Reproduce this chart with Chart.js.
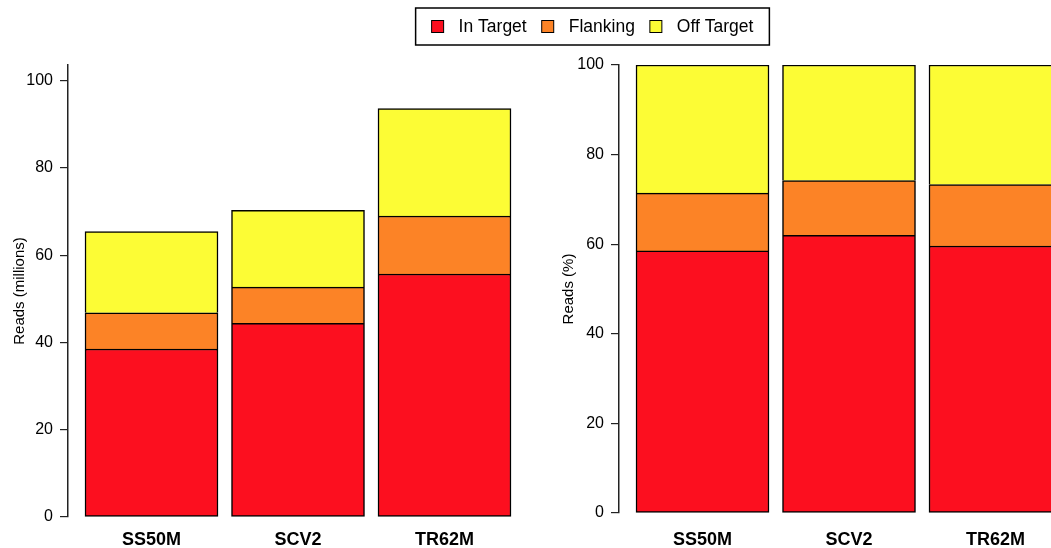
<!DOCTYPE html>
<html>
<head>
<meta charset="utf-8">
<title>Reads per target region</title>
<script src="https://cdn.jsdelivr.net/npm/chart.js@4.4.1/dist/chart.umd.min.js"></script>
<style>
  html, body { margin: 0; padding: 0; background: #fff; overflow: hidden; }
  #wrap { position: relative; width: 1051px; height: 548px; overflow: hidden; }
  #readsChart { position: absolute; left: 0; top: 0; }
  #pctChart { position: absolute; left: 540px; top: 0; }
</style>
</head>
<body>
<div id="wrap">
  <canvas id="readsChart" width="1051" height="548"></canvas>
  <canvas id="pctChart" width="600" height="548"></canvas>
</div>
<script>
// Datos
const categories = ["SS50M", "SCV2", "TR62M"];
const seriesNames = ["In Target", "Flanking", "Off Target"];
const seriesColors = ["#FC0F1F", "#FC8326", "#FCFC35"];

// millones de lecturas
const readsInTarget = [38.5, 44.4, 55.7];
const readsFlanking = [8.3, 8.3, 13.3];
const readsOffTarget = [18.6, 17.6, 24.6];

// porcentaje de lecturas
const pctInTarget = [58.5, 62.0, 59.6];
const pctFlanking = [12.9, 12.2, 13.7];
const pctOffTarget = [28.6, 25.8, 26.7];

const yTicks = [0, 20, 40, 60, 80, 100];

Chart.defaults.font.family = "'Liberation Sans', Arial, Helvetica, sans-serif";
Chart.defaults.color = "#000";

function toPoints(values) {
  return values.map((v, i) => ({ x: i, y: v }));
}

function buildDatasets(series) {
  return series.map((values, i) => ({
    label: seriesNames[i],
    data: toPoints(values),
    backgroundColor: seriesColors[i],
    borderColor: "#000",
    // solo el primer tramo dibuja borde inferior, asi las uniones no se duplican
    borderWidth: i === 0 ? 1.5 : { top: 1.5, left: 1.5, right: 1.5, bottom: 0 },
    borderSkipped: false,
    barThickness: 133,
  }));
}

// leyenda con recuadro, centrada sobre ambos paneles
const boxLegend = {
  id: "boxLegend",
  afterDraw(chart) {
    const ctx = chart.ctx;
    const sw = 12, gapText = 15, gapItem = 15, pad = 16;
    ctx.save();
    ctx.font = "17.5px 'Liberation Sans', Arial, sans-serif";
    const widths = seriesNames.map((n) => ctx.measureText(n).width);
    let total = pad * 2 + gapItem * (seriesNames.length - 1);
    widths.forEach((w) => (total += sw + gapText + w));
    const cx = 592.5, top = 8, h = 37;
    let x = cx - total / 2;
    ctx.lineWidth = 1.5;
    ctx.strokeStyle = "#000";
    ctx.strokeRect(x, top, total, h);
    x += pad;
    const cy = top + h / 2;
    seriesNames.forEach((name, i) => {
      ctx.fillStyle = seriesColors[i];
      ctx.fillRect(x, cy - sw / 2, sw, sw);
      ctx.lineWidth = 1;
      ctx.strokeRect(x, cy - sw / 2, sw, sw);
      x += sw + gapText;
      ctx.fillStyle = "#000";
      ctx.textBaseline = "middle";
      ctx.fillText(name, x, cy + 1);
      x += widths[i] + gapItem;
    });
    ctx.restore();
  },
};

function makeOptions(cfg) {
  return {
    responsive: false,
    animation: false,
    layout: { padding: { top: 65, left: 0, right: cfg.padRight, bottom: 0 } },
    plugins: { legend: { display: false }, tooltip: { enabled: false } },
    scales: {
      x: {
        type: "linear",
        min: -0.57,
        max: 2.57,
        offset: false,
        stacked: true,
        afterBuildTicks: (s) => {
          s.ticks = categories.map((c, i) => ({ value: i }));
        },
        ticks: {
          callback: (v) => categories[v],
          font: { size: 18, weight: "bold" },
          color: "#000",
          padding: cfg.xPad,
          autoSkip: false,
          maxRotation: 0,
        },
        grid: { display: false },
        border: { display: false },
        afterFit: (s) => {
          s.height = cfg.xHeight;
        },
      },
      y: {
        min: 0,
        max: cfg.yMax,
        stacked: true,
        afterBuildTicks: (s) => {
          s.ticks = yTicks.map((v) => ({ value: v }));
        },
        ticks: { font: { size: 16 }, color: "#000", padding: 7 },
        grid: { drawOnChartArea: false, tickLength: 8, color: "#222", lineWidth: 1.2 },
        border: { display: true, color: "#222", width: 1.5 },
        title: {
          display: true,
          text: cfg.yTitle,
          font: { size: 15 },
          color: "#000",
          padding: { top: cfg.titlePad, bottom: 0 },
        },
        afterFit: (s) => {
          s.width = cfg.yWidth;
        },
      },
    },
  };
}

new Chart(document.getElementById("readsChart"), {
  type: "bar",
  data: { datasets: buildDatasets([readsInTarget, readsFlanking, readsOffTarget]) },
  options: makeOptions({
    padRight: 1051 - 528,
    xPad: 4,
    xHeight: 31,
    yMax: 103.6,
    yTitle: "Reads (millions)",
    titlePad: 11,
    yWidth: 68,
  }),
  plugins: [boxLegend],
});

new Chart(document.getElementById("pctChart"), {
  type: "bar",
  data: { datasets: buildDatasets([pctInTarget, pctFlanking, pctOffTarget]) },
  options: makeOptions({
    padRight: 61,
    xPad: 8,
    xHeight: 35,
    yMax: 100,
    yTitle: "Reads (%)",
    titlePad: 20,
    yWidth: 79,
  }),
});
</script>
</body>
</html>
